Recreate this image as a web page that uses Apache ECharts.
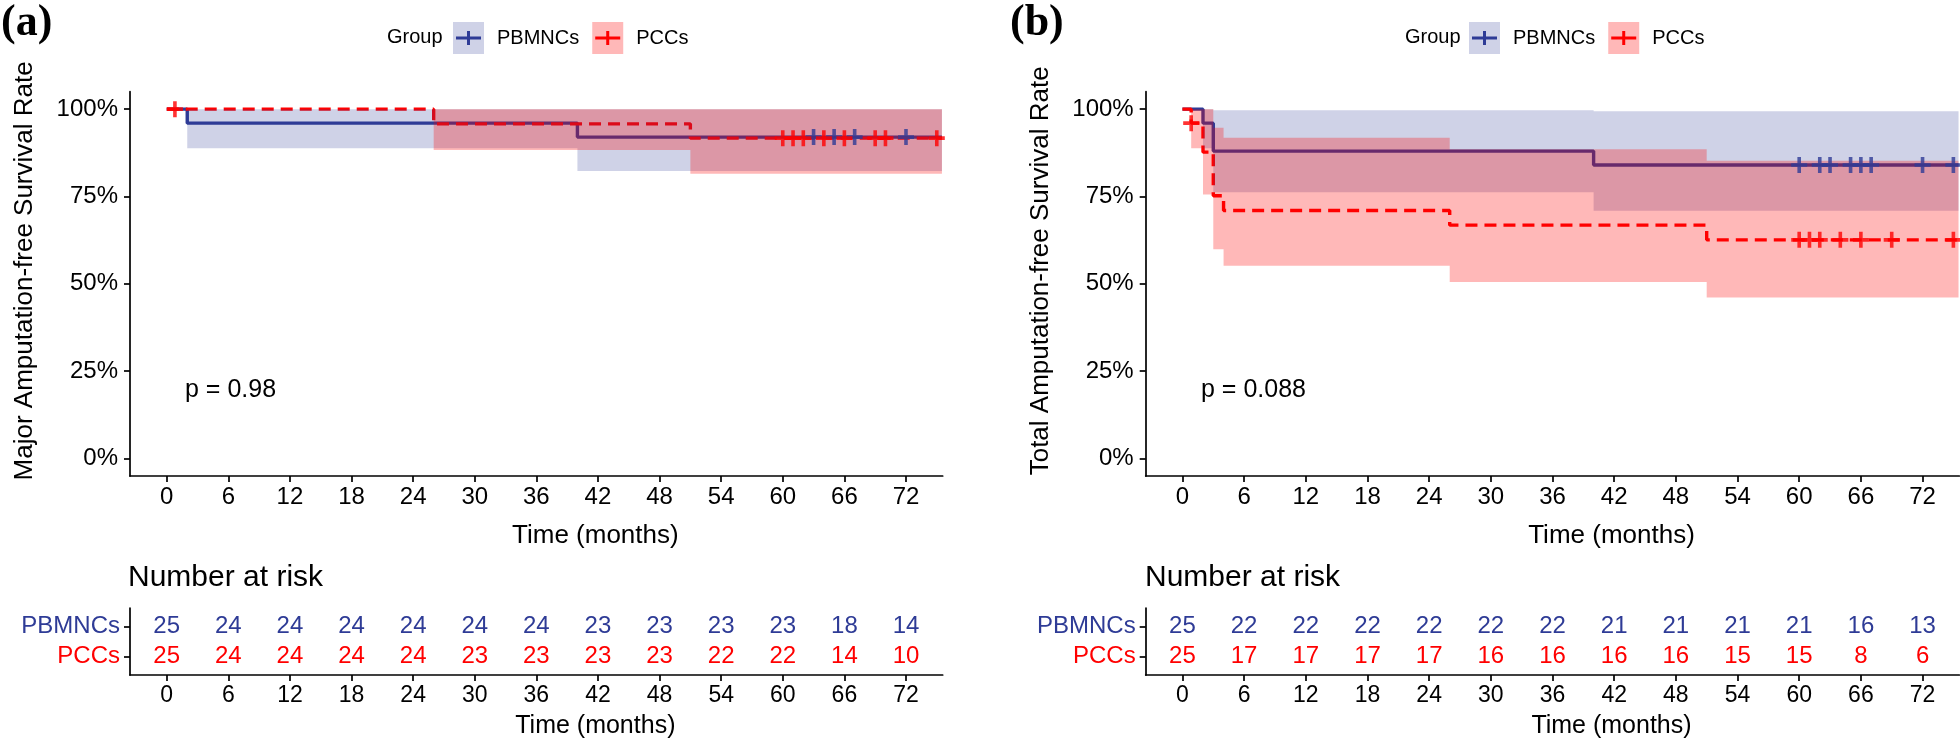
<!DOCTYPE html>
<html><head><meta charset="utf-8">
<script src="https://cdn.jsdelivr.net/npm/echarts@6/dist/echarts.min.js"></script>
<style>html,body{margin:0;padding:0;background:#fff}#c{width:1960px;height:742px}</style>
</head><body><div id="c"></div>
<script>
// ---------------- data ----------------
const groups = ['PBMNCs', 'PCCs'];
const timeTicks = [0, 6, 12, 18, 24, 30, 36, 42, 48, 54, 60, 66, 72];
const pctTicks = [0, 0.25, 0.5, 0.75, 1];

// (a) Major amputation-free survival
const kmA_PBMNCs = [[0, 1], [2, 0.96], [40, 0.92], [75.5, 0.92]];
const kmA_PCCs = [[0, 1], [26, 0.958], [51, 0.917], [75.5, 0.917]];
const ciA_PBMNCs = [[2, 40, 0.888, 1], [40, 75.5, 0.823, 1]];
const ciA_PCCs = [[26, 51, 0.883, 1], [51, 75.5, 0.815, 1]];
const censA_PBMNCs = [[63, 0.92], [65, 0.92], [67, 0.92], [72, 0.92]];
const censA_PCCs = [[0.8, 1], [60, 0.917], [61, 0.917], [62, 0.917], [64, 0.917], [66, 0.917], [69, 0.917], [70, 0.917], [75, 0.917]];
const riskA_PBMNCs = [25, 24, 24, 24, 24, 24, 24, 23, 23, 23, 23, 18, 14];
const riskA_PCCs = [25, 24, 24, 24, 24, 23, 23, 23, 23, 22, 22, 14, 10];
const pValA = 'p = 0.98';
const yTitleA = 'Major Amputation-free Survival Rate';

// (b) Total amputation-free survival
const kmB_PBMNCs = [[0, 1], [2, 0.96], [3, 0.88], [40, 0.84], [75.5, 0.84]];
const kmB_PCCs = [[0, 1], [0.85, 0.96], [2, 0.877], [3, 0.752], [4, 0.71], [26, 0.668], [51, 0.626], [75.5, 0.626]];
const ciB_PBMNCs = [[2, 3, 0.888, 1], [3, 40, 0.762, 0.997], [40, 75.5, 0.709, 0.994]];
const ciB_PCCs = [[0.85, 2, 0.888, 1], [2, 3, 0.756, 1], [3, 4, 0.599, 0.947], [4, 26, 0.552, 0.918], [26, 51, 0.505, 0.885], [51, 75.5, 0.461, 0.852]];
const censB_PBMNCs = [[60, 0.84], [62, 0.84], [63, 0.84], [65, 0.84], [66, 0.84], [67, 0.84], [72, 0.84], [75, 0.84]];
const censB_PCCs = [[0.85, 0.96], [60, 0.626], [61, 0.626], [62, 0.626], [64, 0.626], [66, 0.626], [69, 0.626], [75, 0.626]];
const riskB_PBMNCs = [25, 22, 22, 22, 22, 22, 22, 21, 21, 21, 21, 16, 13];
const riskB_PCCs = [25, 17, 17, 17, 17, 16, 16, 16, 16, 15, 15, 8, 6];
const pValB = 'p = 0.088';
const yTitleB = 'Total Amputation-free Survival Rate';

// ---------------- styles ----------------
const FONT = "'Liberation Sans', Arial, Helvetica, sans-serif";
const BLUE = '#2E3B96', RED = '#FF0000';
const BLUE_FILL = 'rgba(46,59,150,0.23)', RED_FILL = 'rgba(255,0,0,0.28)';
const PLUS = 'path://M6.2,0h3.6v6.2h6.2v3.6h-6.2v6.2h-3.6v-6.2h-6.2v-3.6h6.2z';
const LEG_PLUS = 'path://M0,5.5h11v-5.5h3v5.5h11v3h-11v5.5h-3v-5.5h-11z';
const X_MIN = -3.575, X_MAX = 75.575;

const panels = [
  {left: 130, width: 812.7, km: [kmA_PBMNCs, kmA_PCCs], ci: [ciA_PBMNCs, ciA_PCCs], cens: [censA_PBMNCs, censA_PCCs],
   risk: [riskA_PBMNCs, riskA_PCCs], pval: pValA, ytitle: yTitleA, tag: '(a)', tagLeft: 1, pLeft: 185, nrLeft: 128, legLeft: 453, groupLeft: 387},
  {left: 1145.7, width: 813.6, km: [kmB_PBMNCs, kmB_PCCs], ci: [ciB_PBMNCs, ciB_PCCs], cens: [censB_PBMNCs, censB_PCCs],
   risk: [riskB_PBMNCs, riskB_PCCs], pval: pValB, ytitle: yTitleB, tag: '(b)', tagLeft: 1010, pLeft: 1201, nrLeft: 1145, legLeft: 1469, groupLeft: 1405}
];

const axisLineStyle = {color: '#000', width: 1.7};
const grids = [], xAxes = [], yAxes = [], series = [], titles = [], legends = [];

function bandSeries(name, gi, segs, fill) {
  return {
    type: 'custom', name: name, xAxisIndex: gi, yAxisIndex: gi, z: 3, silent: true, animation: false,
    data: segs, encode: {x: [0, 1], y: [2, 3]},
    renderItem: function (params, api) {
      if (params.dataIndex !== 0) return null;
      const up = [], lo = [];
      segs.forEach(function (s) {
        up.push(api.coord([s[0], s[3]]), api.coord([s[1], s[3]]));
        lo.push(api.coord([s[0], s[2]]), api.coord([s[1], s[2]]));
      });
      return {type: 'polygon', shape: {points: up.concat(lo.reverse())}, style: {fill: fill, stroke: null}};
    }
  };
}

panels.forEach(function (P, pi) {
  const gm = pi * 2, gr = pi * 2 + 1;
  grids.push({left: P.left, top: 91.7, width: P.width, height: 384.3});
  grids.push({left: P.left, top: 608, width: P.width, height: 67});

  xAxes.push({
    type: 'value', gridIndex: gm, min: X_MIN, max: X_MAX,
    name: 'Time (months)', nameLocation: 'middle', nameGap: 47,
    nameTextStyle: {fontFamily: FONT, color: '#000', fontSize: 26, padding: [0, 0, 0, 118]},
    axisLine: {show: true, onZero: false, lineStyle: axisLineStyle},
    axisTick: {show: true, customValues: timeTicks, length: 6, lineStyle: axisLineStyle},
    axisLabel: {customValues: timeTicks, fontFamily: FONT, fontSize: 24, color: '#000', margin: 9},
    splitLine: {show: false}
  });
  xAxes.push({
    type: 'value', gridIndex: gr, min: X_MIN, max: X_MAX,
    name: 'Time (months)', nameLocation: 'middle', nameGap: 39,
    nameTextStyle: {fontFamily: FONT, color: '#000', fontSize: 25, padding: [0, 0, 0, 118]},
    axisLine: {show: true, onZero: false, lineStyle: axisLineStyle},
    axisTick: {show: true, customValues: timeTicks, length: 6, lineStyle: axisLineStyle},
    axisLabel: {customValues: timeTicks, fontFamily: FONT, fontSize: 23, color: '#000', margin: 9},
    splitLine: {show: false}
  });

  yAxes.push({
    type: 'value', gridIndex: gm, min: -0.05, max: 1.05,
    axisLine: {show: true, onZero: false, lineStyle: axisLineStyle},
    axisTick: {show: true, customValues: pctTicks, length: 6, lineStyle: axisLineStyle},
    axisLabel: {customValues: pctTicks, fontFamily: FONT, fontSize: 24, color: '#000', margin: 12,
      formatter: function (v) { return Math.round(v * 100) + '%'; }},
    splitLine: {show: false},
    name: P.ytitle, nameLocation: 'middle', nameRotate: 90, nameGap: 92,
    nameTextStyle: {fontFamily: FONT, color: '#000', fontSize: 26, padding: [0, 0, 0, 26]}
  });
  yAxes.push({
    type: 'value', gridIndex: gr, min: -0.6, max: 1.6,
    axisLine: {show: true, onZero: false, lineStyle: axisLineStyle},
    axisTick: {show: true, customValues: [0, 1], length: 6, lineStyle: axisLineStyle},
    axisLabel: {customValues: [0, 1], margin: 10,
      formatter: function (v) { return v === 1 ? '{b|' + groups[0] + '}' : '{r|' + groups[1] + '}'; },
      rich: {b: {fontFamily: FONT, fontSize: 24, color: BLUE}, r: {fontFamily: FONT, fontSize: 24, color: RED}}},
    splitLine: {show: false}
  });

  // confidence bands (drawn above the curves)
  series.push(bandSeries(groups[0], gm, P.ci[0], BLUE_FILL));
  series.push(bandSeries(groups[1], gm, P.ci[1], RED_FILL));
  // KM step curves
  series.push({type: 'line', name: groups[0], xAxisIndex: gm, yAxisIndex: gm, data: P.km[0], step: 'end',
    symbol: 'none', z: 2, silent: true, animation: false, lineStyle: {color: BLUE, width: 3.4}});
  series.push({type: 'line', name: groups[1], xAxisIndex: gm, yAxisIndex: gm, data: P.km[1], step: 'end',
    symbol: 'none', z: 2, silent: true, animation: false, lineStyle: {color: RED, width: 3.4, type: [12, 7]}});
  // censor marks
  series.push({type: 'scatter', name: groups[0], xAxisIndex: gm, yAxisIndex: gm, data: P.cens[0], symbol: PLUS,
    symbolSize: 16, z: 4, silent: true, animation: false, itemStyle: {color: BLUE}});
  series.push({type: 'scatter', name: groups[1], xAxisIndex: gm, yAxisIndex: gm, data: P.cens[1], symbol: PLUS,
    symbolSize: 16, z: 4, silent: true, animation: false, itemStyle: {color: RED}});
  // number at risk table
  [0, 1].forEach(function (g) {
    series.push({type: 'scatter', name: groups[g], xAxisIndex: gr, yAxisIndex: gr, symbolSize: 1, silent: true, animation: false,
      itemStyle: {color: '#fff', opacity: 0},
      data: timeTicks.map(function (t, i) { return [t, g === 0 ? 1 : 0, P.risk[g][i]]; }),
      label: {show: true, position: 'inside', opacity: 1, textBorderWidth: 0, formatter: function (p) { return String(p.value[2]); },
        fontFamily: FONT, fontSize: 24, color: g === 0 ? BLUE : RED}});
  });

  titles.push({text: P.tag, left: P.tagLeft, top: 2, padding: 0,
    textStyle: {fontFamily: "'Liberation Serif', 'Times New Roman', serif", fontWeight: 'bold', fontSize: 44, color: '#000'}});
  titles.push({text: P.pval, left: P.pLeft, top: 378, padding: 0,
    textStyle: {fontFamily: FONT, fontWeight: 'normal', fontSize: 25, lineHeight: 25, color: '#000'}});
  titles.push({text: 'Number at risk', left: P.nrLeft, top: 563, padding: 0,
    textStyle: {fontFamily: FONT, fontWeight: 'normal', fontSize: 30, lineHeight: 30, color: '#000'}});
  titles.push({text: 'Group', left: P.groupLeft, top: 27.5, padding: 0,
    textStyle: {fontFamily: FONT, fontWeight: 'normal', fontSize: 20, lineHeight: 20, color: '#000'}});

  legends.push({left: P.legLeft, top: 22, padding: 0, orient: 'horizontal', itemWidth: 31, itemHeight: 32, itemGap: 13,
    selectedMode: false, icon: 'rect',
    data: [{name: groups[0], itemStyle: {color: BLUE_FILL, borderWidth: 0}}, {name: groups[1], itemStyle: {color: RED_FILL, borderWidth: 0}}],
    textStyle: {fontFamily: FONT, fontSize: 20, color: '#000', lineHeight: 32, padding: [0, 0, 0, 8]}});
  legends.push({left: P.legLeft + 3, top: 22, padding: 0, orient: 'horizontal', itemWidth: 25, itemHeight: 14, itemGap: 13,
    selectedMode: false,
    data: [{name: groups[0], icon: LEG_PLUS, itemStyle: {color: BLUE, borderWidth: 0}}, {name: groups[1], icon: LEG_PLUS, itemStyle: {color: RED, borderWidth: 0}}],
    textStyle: {fontFamily: FONT, fontSize: 20, color: 'rgba(0,0,0,0)', lineHeight: 32, padding: [0, 0, 0, 14]}});
});

const chart = echarts.init(document.getElementById('c'), null, {renderer: 'canvas'});
chart.setOption({
  animation: false,
  backgroundColor: '#fff',
  title: titles,
  legend: legends,
  grid: grids,
  xAxis: xAxes,
  yAxis: yAxes,
  series: series
});
</script></body></html>
